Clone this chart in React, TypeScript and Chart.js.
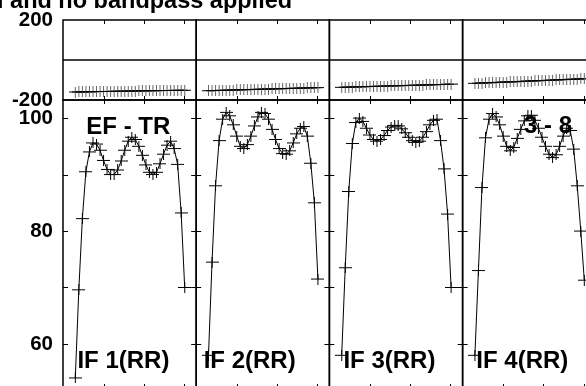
import React, { useEffect, useRef } from 'react';
import { Chart, registerables } from 'chart.js';

Chart.register(...registerables);

// ---------- data ----------
const TITLE = 'l and no bandpass applied';
const IF_LABELS = ['IF 1(RR)', 'IF 2(RR)', 'IF 3(RR)', 'IF 4(RR)'];
const BASELINE_LEFT = 'EF - TR';
const BASELINE_RIGHT = '3 - 8';

const CHANNELS = [
  1, 2, 3, 4, 5, 6, 7, 8, 9, 10, 11, 12, 13, 14, 15, 16,
  17, 18, 19, 20, 21, 22, 23, 24, 25, 26, 27, 28, 29, 30, 31, 32,
];

const X_TICKS = [9.0, 20.4, 31.8];
const PHASE_TICKS = [-200, 200];
const AMP_TICKS = [60, 70, 80, 90, 100];

const AMP_IF1 = [
  54.0, 69.6, 82.2, 90.5, 94.0, 95.6, 95.4, 94.3, 92.5, 90.9, 90.0, 90.0, 90.8, 92.4, 94.3, 95.9,
  96.6, 96.2, 95.0, 93.4, 91.7, 90.4, 90.0, 90.4, 91.9, 93.6, 95.2, 95.9, 94.6, 91.8, 83.2, 70.0,
];
const AMP_IF2 = [
  58.0, 74.5, 88.0, 96.0, 99.8, 101.0, 100.4, 98.8, 96.8, 95.0, 94.6, 95.3, 96.8, 98.6, 100.2, 101.0,
  100.8, 99.8, 98.0, 96.2, 94.6, 93.7, 93.6, 94.2, 95.6, 97.2, 98.2, 98.5, 96.8, 92.0, 85.0, 71.5,
];
const AMP_IF3 = [
  58.0, 73.5, 87.0, 95.5, 99.2, 100.0, 99.4, 98.2, 97.0, 96.2, 95.9, 96.2, 96.9, 97.8, 98.4, 98.7,
  98.6, 98.1, 97.4, 96.6, 96.0, 95.7, 95.9, 96.6, 97.6, 98.8, 99.6, 99.8, 96.0, 91.0, 83.0, 70.0,
];
const AMP_IF4 = [
  58.0, 73.0, 87.7, 96.5, 99.8, 100.8, 100.2, 98.8, 96.8, 95.0, 94.2, 94.8, 96.4, 98.0, 99.5, 100.4,
  100.5, 99.6, 98.2, 96.6, 95.0, 93.6, 93.0, 93.5, 95.0, 96.8, 98.2, 97.8, 94.5, 88.0, 80.0, 71.3,
];

const PHASE_IF1 = [
  -160.0, -159.5, -159.5, -159.0, -158.5, -158.5, -158.0, -157.5, -157.5, -157.0, -157.0, -156.5, -156.0, -156.0, -155.5, -155.5,
  -155.0, -155.0, -154.5, -154.0, -154.0, -153.5, -153.5, -153.0, -153.0, -152.5, -152.5, -152.0, -152.0, -151.5, -151.5, -151.0,
];
const PHASE_IF2 = [
  -153.5, -153.0, -152.5, -152.0, -151.5, -151.0, -150.5, -150.0, -149.5, -149.0, -148.5, -148.0, -147.5, -147.0, -146.5, -146.0,
  -145.5, -145.0, -144.5, -144.0, -143.5, -143.0, -142.5, -142.0, -141.5, -141.0, -140.5, -140.0, -139.5, -139.0, -138.5, -138.0,
];
const PHASE_IF3 = [
  -136.5, -136.0, -135.5, -135.0, -134.5, -134.0, -133.5, -133.0, -132.5, -132.0, -131.5, -131.0, -130.5, -130.0, -129.5, -129.0,
  -128.5, -128.0, -127.5, -127.0, -126.5, -126.0, -125.5, -125.0, -124.5, -124.0, -123.5, -123.0, -122.5, -122.0, -121.0, -120.5,
];
const PHASE_IF4 = [
  -116.5, -116.0, -115.0, -114.5, -113.5, -113.0, -112.0, -111.5, -110.5, -110.0, -109.5, -108.5, -108.0, -107.0, -106.5, -105.5,
  -105.0, -104.0, -103.5, -102.5, -102.0, -101.0, -100.5, -99.5, -99.0, -98.0, -97.5, -96.5, -96.0, -95.0, -94.5, -93.5,
];

const AMP_SERIES = [AMP_IF1, AMP_IF2, AMP_IF3, AMP_IF4];
const PHASE_SERIES = [PHASE_IF1, PHASE_IF2, PHASE_IF3, PHASE_IF4];

// ---------- layout / style ----------
const CANVAS_W = 630;
const CANVAS_H = 438;
const SHIFT_Y = 20;
const FONT = '"Liberation Sans", Arial, Helvetica, sans-serif';
const X_IDS = ['x1', 'x2', 'x3', 'x4'];
const IF_LABEL_DX = [14.4, 7.5, 14, 13.7];

function makeCross(vColor: string): HTMLCanvasElement {
  const c = document.createElement('canvas');
  c.width = 13;
  c.height = 11;
  const g = c.getContext('2d')!;
  g.lineWidth = 1;
  g.strokeStyle = '#000';
  g.beginPath();
  g.moveTo(0, 5.5);
  g.lineTo(13, 5.5);
  g.stroke();
  g.strokeStyle = vColor;
  g.beginPath();
  g.moveTo(6.5, 0);
  g.lineTo(6.5, 11);
  g.stroke();
  return c;
}

const panelPlugin = {
  id: 'panelPlugin',
  beforeDatasetsDraw(chart: any) {
    const ctx = chart.ctx as CanvasRenderingContext2D;
    const ya = chart.scales.ya;
    ctx.save();
    ctx.fillStyle = '#000';
    ctx.textAlign = 'left';
    ctx.textBaseline = 'alphabetic';
    ctx.font = `bold 23.5px ${FONT}`;
    ctx.fillText(TITLE, -3, SHIFT_Y + 8);
    ctx.font = `bold 24px ${FONT}`;
    X_IDS.forEach((id, i) => {
      const xs = chart.scales[id];
      ctx.fillText(IF_LABELS[i], xs.left + IF_LABEL_DX[i], ya.bottom - 20);
    });
    const x1 = chart.scales.x1;
    const x4 = chart.scales.x4;
    ctx.fillText(BASELINE_LEFT, x1.left + 23.3, ya.top + 33.5);
    ctx.fillText(BASELINE_RIGHT, x4.left + 61.5, ya.top + 33);
    ctx.restore();
  },
  afterDatasetsDraw(chart: any) {
    const ctx = chart.ctx as CanvasRenderingContext2D;
    const yp = chart.scales.yp;
    const ya = chart.scales.ya;
    const area = chart.chartArea;
    ctx.save();
    ctx.strokeStyle = '#000';
    ctx.lineWidth = 1.5;
    X_IDS.forEach((id) => {
      const xs = chart.scales[id];
      [yp, ya].forEach((ys) => {
        ctx.strokeRect(xs.left, ys.top, xs.right - xs.left, ys.bottom - ys.top);
      });
    });
    const y0 = yp.getPixelForValue(0);
    ctx.beginPath();
    ctx.moveTo(area.left, y0);
    ctx.lineTo(area.right, y0);
    ctx.stroke();

    ctx.lineWidth = 1;
    ctx.beginPath();
    X_IDS.forEach((id) => {
      const xs = chart.scales[id];
      [yp, ya].forEach((ys) => {
        X_TICKS.forEach((v) => {
          const px = Math.round(xs.getPixelForValue(v)) + 0.5;
          ctx.moveTo(px, ys.top);
          ctx.lineTo(px, ys.top + 4);
          ctx.moveTo(px, ys.bottom);
          ctx.lineTo(px, ys.bottom - 4);
        });
      });
      AMP_TICKS.forEach((v) => {
        const py = Math.round(ya.getPixelForValue(v)) + 0.5;
        ctx.moveTo(xs.left, py);
        ctx.lineTo(xs.left + 5, py);
        ctx.moveTo(xs.right, py);
        ctx.lineTo(xs.right - 5, py);
      });
    });
    ctx.stroke();
    ctx.restore();
  },
};

export default function App() {
  const ref = useRef<HTMLCanvasElement>(null);

  useEffect(() => {
    const canvas = ref.current;
    if (!canvas) return;
    const ampCross = makeCross('#000');
    const phaseCross = makeCross('#666');

    const datasets: any[] = [];
    AMP_SERIES.forEach((amp, i) => {
      datasets.push({
        data: CHANNELS.map((c, k) => ({ x: c, y: amp[k] })),
        xAxisID: X_IDS[i],
        yAxisID: 'ya',
        borderColor: '#000',
        borderWidth: 1,
        pointStyle: ampCross,
        pointRadius: 6,
        tension: 0,
        fill: false,
      });
      datasets.push({
        data: CHANNELS.map((c, k) => ({ x: c, y: PHASE_SERIES[i][k] })),
        xAxisID: X_IDS[i],
        yAxisID: 'yp',
        borderColor: '#000',
        borderWidth: 1,
        pointStyle: phaseCross,
        pointRadius: 6,
        tension: 0,
        fill: false,
      });
    });

    const xScale = (id: string) => ({
      type: 'linear',
      position: 'bottom',
      stack: 'h',
      stackWeight: 1,
      min: -2.485,
      max: 35.26,
      grid: { display: false, drawTicks: false },
      border: { display: false },
      ticks: { display: false },
      afterFit: (s: any) => {
        s.height = 0;
      },
    });

    const tickFont = { family: FONT, size: 20.5, weight: 'bold' as const };

    const scales: any = {};
    X_IDS.forEach((id) => {
      scales[id] = xScale(id);
    });
    scales.yp = {
      type: 'linear',
      position: 'left',
      stack: 'v',
      stackWeight: 80,
      weight: 1,
      min: -200,
      max: 200,
      grid: { display: false, drawTicks: false },
      border: { display: false },
      ticks: { font: tickFont, color: '#000', padding: 10, autoSkip: false },
      afterBuildTicks: (s: any) => {
        s.ticks = PHASE_TICKS.map((v) => ({ value: v }));
      },
      afterFit: (s: any) => {
        s.width = 63;
      },
    };
    scales.ya = {
      type: 'linear',
      position: 'left',
      stack: 'v',
      stackWeight: 288,
      weight: 0,
      min: 52.21,
      max: 103.19,
      grid: { display: false, drawTicks: false },
      border: { display: false },
      ticks: {
        font: tickFont,
        color: '#000',
        padding: 10,
        autoSkip: false,
        callback: (v: any) => (Number(v) % 20 === 0 ? String(v) : ''),
      },
      afterBuildTicks: (s: any) => {
        s.ticks = AMP_TICKS.map((v) => ({ value: v }));
      },
      afterFit: (s: any) => {
        s.width = 63;
      },
    };

    const chart = new Chart(canvas, {
      type: 'line',
      data: { datasets },
      options: {
        responsive: false,
        animation: false,
        events: [],
        layout: { padding: { top: 40, left: 0, right: CANVAS_W - 595.8, bottom: 30 } },
        plugins: {
          legend: { display: false },
          tooltip: { enabled: false },
          title: { display: false },
        },
        scales,
      } as any,
      plugins: [panelPlugin],
    });
    return () => chart.destroy();
  }, []);

  return (
    <div
      style={{
        position: 'fixed',
        left: 0,
        top: 0,
        width: 586,
        height: 386,
        overflow: 'hidden',
        background: '#fff',
      }}
    >
      <canvas
        ref={ref}
        width={CANVAS_W}
        height={CANVAS_H}
        style={{ position: 'absolute', left: 0, top: -SHIFT_Y, width: CANVAS_W, height: CANVAS_H }}
      />
    </div>
  );
}
